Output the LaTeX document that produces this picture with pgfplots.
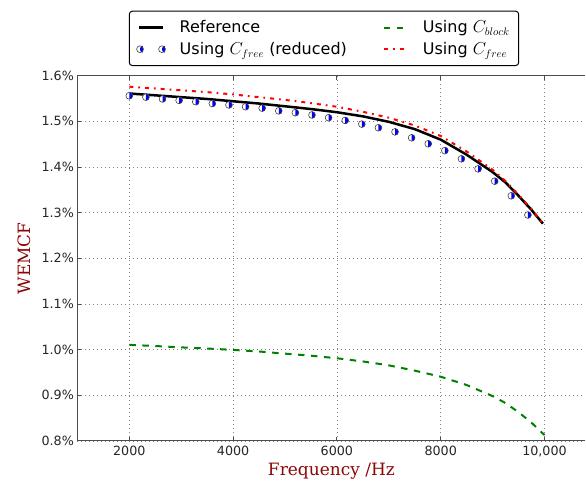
\documentclass[border=0pt]{standalone}
\usepackage{fontspec}
\setmainfont{DejaVu Sans}
\newfontfamily\labelfont{DejaVu Serif}
\usepackage{pgfplots}
\pgfplotsset{compat=1.18}

\definecolor{labelred}{rgb}{0.55,0.02,0.02}
\definecolor{spine}{gray}{0.3}

% half filled circle, right half blue
\pgfdeclareplotmark{halfc}{%
  \begin{pgfscope}
  \pgfsetlinewidth{0.6pt}%
  \pgfpathcircle{\pgfpointorigin}{3.4pt}%
  \pgfsetfillcolor{white}\pgfusepath{fill}%
  \pgfpathmoveto{\pgfpoint{0pt}{3.4pt}}%
  \pgfpatharc{90}{-90}{3.4pt}%
  \pgfpathclose
  \pgfsetfillcolor{blue}\pgfusepath{fill}%
  \pgfpathcircle{\pgfpointorigin}{3.4pt}%
  \pgfsetstrokecolor{black!75}\pgfusepath{stroke}%
  \end{pgfscope}}

\begin{document}
\begin{tikzpicture}
\path (0,0) rectangle (586pt,484pt);
\begin{axis}[
    at={(77.4pt,43pt)}, anchor=south west,
    scale only axis, width=508pt, height=365.3pt,
    xmin=1000, xmax=10788, ymin=0.8, ymax=1.6,
    axis x line*=box, axis y line*=left,
    scaled x ticks=false,
    xtick={2000,4000,6000,8000,10000},
    xticklabels={2000,4000,6000,8000,{10,000}},
    ytick={0.8,0.9,1.0,1.1,1.2,1.3,1.4,1.5,1.6},
    yticklabels={0.8\%,0.9\%,1.0\%,1.1\%,1.2\%,1.3\%,1.4\%,1.5\%,1.6\%},
    ticklabel style={font=\fontsize{12.7}{15}\selectfont, text=black!85},
    xticklabel style={yshift=-2pt},
    grid=major,
    grid style={gray, line width=0.6pt, dash pattern=on 1pt off 3pt},
    axis line style={spine, line width=1pt, -},
    tick style={spine, line width=1pt},
    major tick length=4pt,
    every axis x label/.style={at={(axis description cs:0.5,-0.0958)}, anchor=base,
        font=\labelfont\fontsize{17}{20}\selectfont, text=labelred},
    every axis y label/.style={at={(axis description cs:-0.093,0.5)}, anchor=base, rotate=90,
        font=\labelfont\fontsize{17}{20}\selectfont, text=labelred},
    xlabel={Frequency /Hz},
    ylabel={WEMCF},
    legend columns=2,
    legend cell align=left,
    legend image code/.code={\draw[#1] (0pt,0pt) -- (24pt,0pt);},
    legend style={at={(axis description cs:0.4854,1.0265)}, anchor=south,
        draw=black, line width=1pt, rounded corners=3pt,
        font=\fontsize{16}{19}\selectfont,
        inner xsep=7pt, inner ysep=7.5pt, row sep=4pt,
        /tikz/every odd column/.append style={column sep=12pt},
        /tikz/every even column/.append style={column sep=34pt}},
]
% Reference
\addplot[black, line width=2.5pt] coordinates {
(2000,1.561) (2500,1.557) (3000,1.553) (3500,1.549) (4000,1.544)
(4500,1.539) (5000,1.533) (5500,1.527) (6000,1.520) (6500,1.511)
(7000,1.499) (7500,1.483) (8000,1.460) (8500,1.427) (9000,1.389)
(9250,1.366) (9500,1.337) (9750,1.306) (9970,1.276)
};
\addlegendentry{Reference}
% C block
\addplot[color={rgb,1:red,0;green,0.5;blue,0}, line width=2pt, dash pattern=on 6.5pt off 6.5pt] coordinates {
(2000,1.0105) (2500,1.0080) (3000,1.0050) (3500,1.0025) (4000,0.9995)
(4500,0.9960) (5000,0.9913) (5500,0.9868) (6000,0.9812) (6500,0.9742)
(7000,0.9657) (7500,0.9541) (8000,0.9408) (8500,0.9226) (9000,0.8983)
(9250,0.8830) (9500,0.8630) (9750,0.8400) (10000,0.8130)
};
\addlegendentry{Using $C_{block}$}
% C free reduced
\addplot[only marks, mark=halfc,
    legend image code/.code={%
        \begin{pgfscope}\pgftransformxshift{1pt}\pgfuseplotmark{halfc}\end{pgfscope}%
        \begin{pgfscope}\pgftransformxshift{23pt}\pgfuseplotmark{halfc}\end{pgfscope}}]
coordinates {
(2000,1.556) (2320,1.553) (2640,1.549) (2960,1.546) (3280,1.543)
(3600,1.539) (3920,1.536) (4240,1.532) (4560,1.529) (4880,1.523)
(5200,1.519) (5520,1.514) (5840,1.508) (6160,1.502) (6480,1.494)
(6800,1.486) (7120,1.477) (7440,1.464) (7760,1.451) (8080,1.436)
(8400,1.418) (8720,1.396) (9040,1.369) (9360,1.337) (9680,1.295)
};
\addlegendentry{Using $C_{free}$ (reduced)}
% C free
\addplot[red, line width=2pt, dash pattern=on 4pt off 5pt on 1.7pt off 5pt] coordinates {
(2000,1.576) (2500,1.572) (3000,1.568) (3500,1.564) (4000,1.559)
(4500,1.553) (5000,1.547) (5500,1.540) (6000,1.532) (6500,1.521)
(7000,1.508) (7500,1.491) (8000,1.468) (8500,1.434) (9000,1.394)
(9250,1.369) (9500,1.339) (9750,1.308) (9950,1.279)
};
\addlegendentry{Using $C_{free}$}
\end{axis}
\end{tikzpicture}
\end{document}
